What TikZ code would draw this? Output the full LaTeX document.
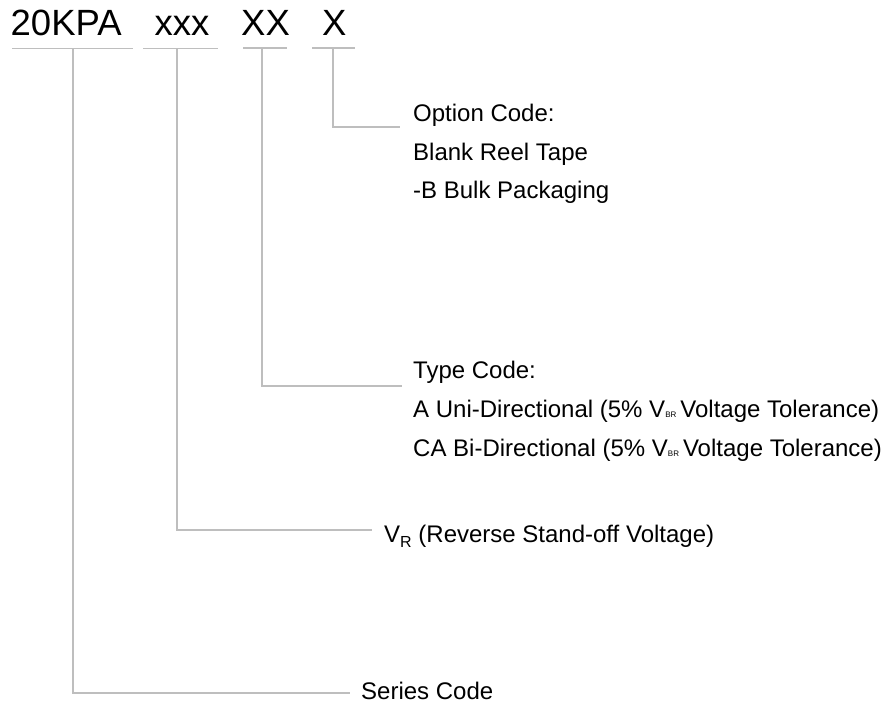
\documentclass[tikz,border=0pt]{standalone}
\usepackage{fontspec}
\setmainfont{Liberation Sans}
\definecolor{linegray}{RGB}{190,190,190}
\begin{document}
\begin{tikzpicture}[x=1pt,y=-1pt,
  big/.style={anchor=base west,inner sep=0pt,font=\fontsize{36.5}{36.5}\selectfont},
  lbl/.style={anchor=base west,inner sep=0pt,font=\fontsize{24}{24}\selectfont},
  conn/.style={draw=linegray,line width=1.6pt},
  uline/.style={draw=linegray,line width=1.6pt}]
\useasboundingbox (0,0) rectangle (889,703);
% top code
\node[big] (p1) at (10.5,36) {20KPA};
\node[big] (p2) at (154.5,36) {xxx};
\node[big] (p3) at (241,36) {XX};
\node[big] (p4) at (322,36) {X};
% underlines
\coordinate (a1) at (12,48.5);  \coordinate (b1) at (133,48.5);
\coordinate (a2) at (143,48.5); \coordinate (b2) at (218,48.5);
\coordinate (a3) at (243,48);   \coordinate (b3) at (287,48);
\coordinate (a4) at (312,48);   \coordinate (b4) at (355,48);
\draw[uline] (a1) -- (b1);
\draw[uline] (a2) -- (b2);
\draw[uline] (a3) -- (b3);
\draw[uline] (a4) -- (b4);
% connector start points
\coordinate (s1) at (73,48.5);
\coordinate (s2) at (177,48.5);
\coordinate (s3) at (262,48);
\coordinate (s4) at (333,48);
% connector end points
\coordinate (e4) at (400,127);
\coordinate (e3) at (402,386);
\coordinate (e2) at (372,530);
\coordinate (e1) at (350,693);
\draw[conn] (s4) |- (e4);
\draw[conn] (s3) |- (e3);
\draw[conn] (s2) |- (e2);
\draw[conn] (s1) |- (e1);
% labels
\node[lbl] (opt1) at (413,122) {Option Code:};
\node[lbl] (opt2) at (413,160.5) {Blank Reel Tape};
\node[lbl] (opt3) at (413,199) {-B Bulk Packaging};
\node[lbl] (typ1) at (413,378) {Type Code:};
\node[lbl] (typ2) at (413,417) {A Uni-Directional (5\% V\raisebox{-0.5pt}{\fontsize{8}{8}\selectfont BR}\hspace{4pt}Voltage Tolerance)};
\node[lbl] (typ3) at (413,456) {CA Bi-Directional (5\% V\raisebox{-0.5pt}{\fontsize{8}{8}\selectfont BR}\hspace{4pt}Voltage Tolerance)};
\node[lbl] (vr) at (384,542) {V\raisebox{-5pt}{\fontsize{16}{16}\selectfont R} (Reverse Stand-off Voltage)};
\node[lbl] (ser) at (361,699) {Series Code};
\end{tikzpicture}
\end{document}
